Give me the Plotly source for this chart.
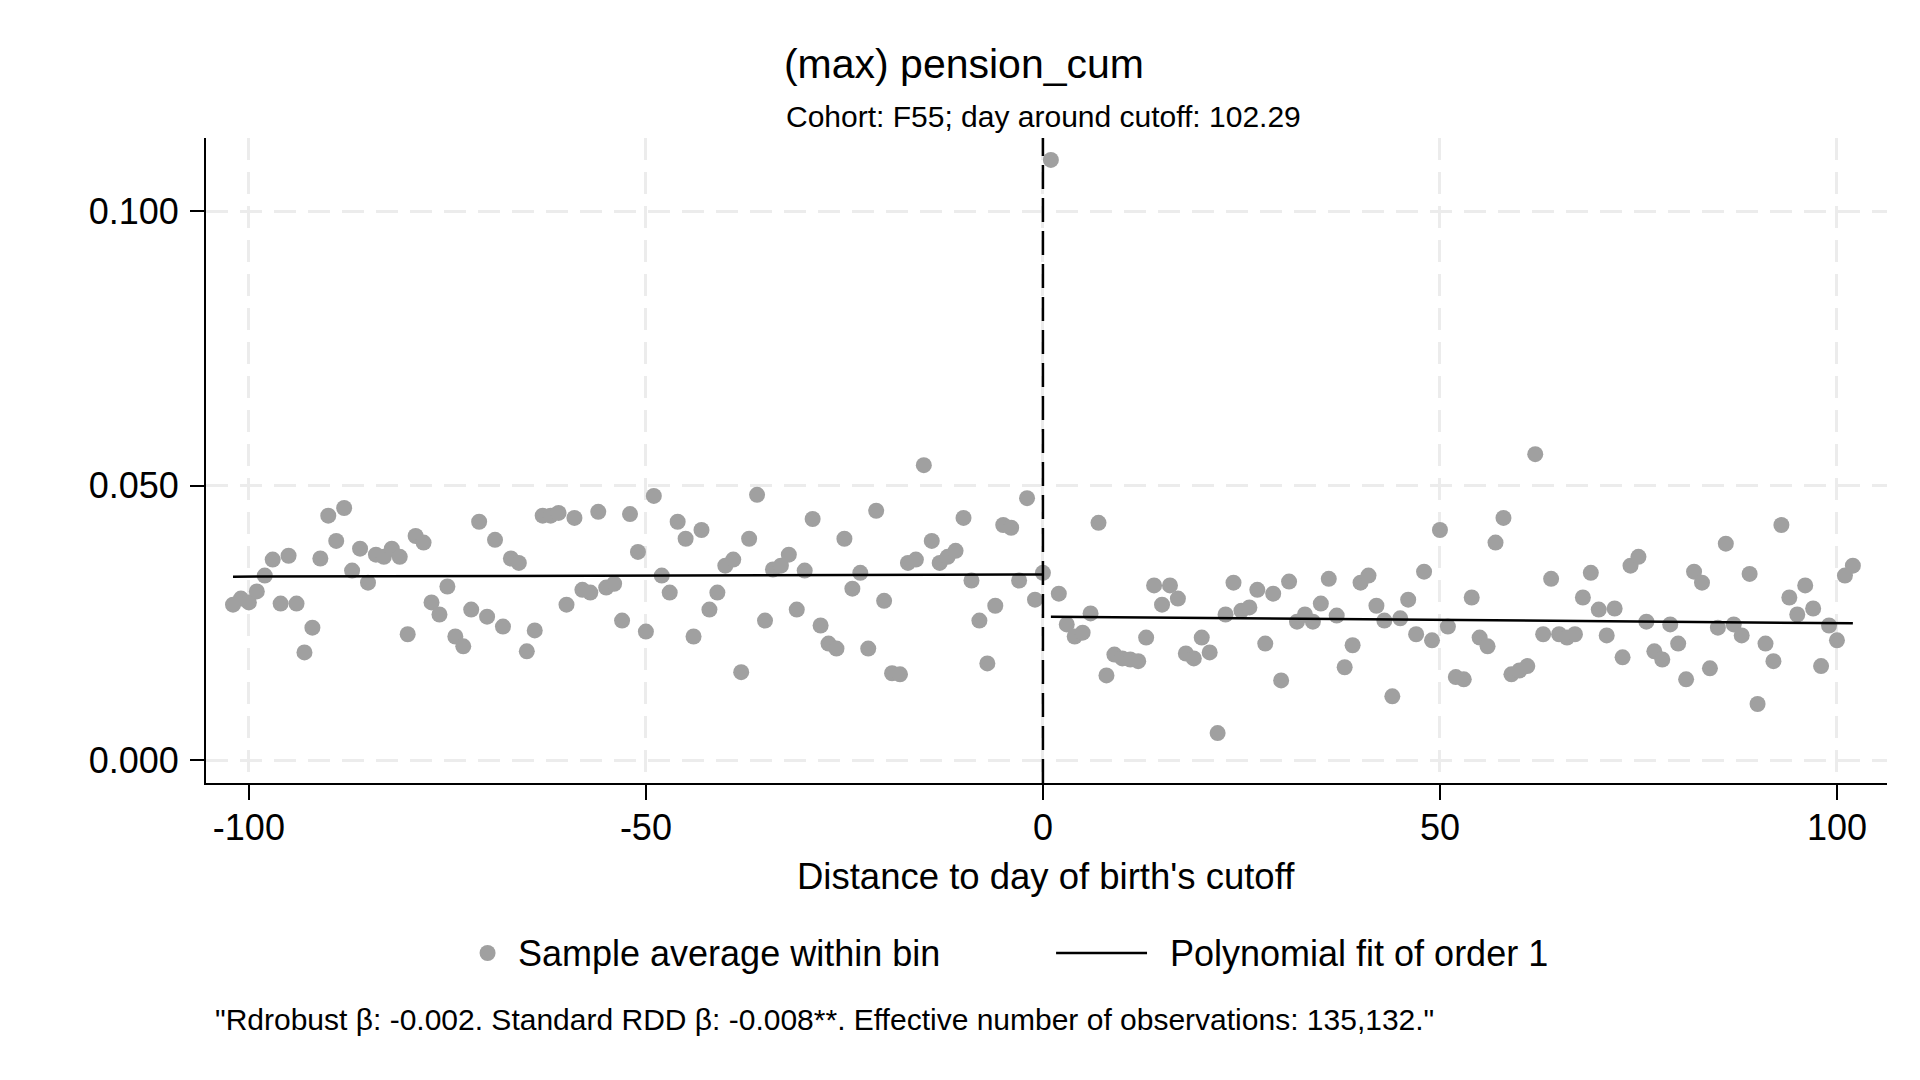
import plotly.graph_objects as go

# binned sample averages, left of the cutoff (days -102..0)
LEFT_X = list(range(-102, 1))
LEFT_Y = [
    0.0283, 0.0294, 0.0287, 0.0307, 0.0336, 0.0365, 0.0285, 0.0372, 0.0285, 0.0196,
    0.0241, 0.0367, 0.0445, 0.0399, 0.0459, 0.0345, 0.0385, 0.0323, 0.0374, 0.0370,
    0.0385, 0.0370, 0.0229, 0.0408, 0.0396, 0.0287, 0.0265, 0.0316, 0.0225, 0.0207,
    0.0274, 0.0434, 0.0261, 0.0401, 0.0243, 0.0367, 0.0359, 0.0198, 0.0236, 0.0445,
    0.0445, 0.0450, 0.0283, 0.0441, 0.0310, 0.0305, 0.0452, 0.0314, 0.0321, 0.0254,
    0.0448, 0.0379, 0.0234, 0.0481, 0.0336, 0.0305, 0.0434, 0.0403, 0.0225, 0.0419,
    0.0274, 0.0305, 0.0354, 0.0365, 0.0160, 0.0403, 0.0483, 0.0254, 0.0347, 0.0354,
    0.0374, 0.0274, 0.0345, 0.0439, 0.0245, 0.0212, 0.0203, 0.0403, 0.0312, 0.0341,
    0.0203, 0.0454, 0.0290, 0.0158, 0.0156, 0.0359, 0.0365, 0.0537, 0.0399, 0.0359,
    0.0370, 0.0381, 0.0441, 0.0327, 0.0254, 0.0176, 0.0281, 0.0428, 0.0423, 0.0327,
    0.0477, 0.0292, 0.0341,
]

# binned sample averages, right of the cutoff (days 1..102)
RIGHT_X = list(range(1, 103))
RIGHT_Y = [
    0.1093, 0.0303, 0.0247, 0.0225, 0.0232, 0.0267, 0.0432, 0.0154, 0.0192, 0.0185,
    0.0183, 0.0180, 0.0223, 0.0318, 0.0283, 0.0318, 0.0294, 0.0194, 0.0185, 0.0223,
    0.0196, 0.0049, 0.0265, 0.0323, 0.0272, 0.0278, 0.0310, 0.0212, 0.0303, 0.0145,
    0.0325, 0.0252, 0.0265, 0.0252, 0.0285, 0.0330, 0.0263, 0.0169, 0.0209, 0.0323,
    0.0336, 0.0281, 0.0254, 0.0116, 0.0258, 0.0292, 0.0229, 0.0343, 0.0218, 0.0419,
    0.0243, 0.0151, 0.0147, 0.0296, 0.0223, 0.0207, 0.0396, 0.0441, 0.0156, 0.0163,
    0.0171, 0.0557, 0.0229, 0.0330, 0.0229, 0.0223, 0.0229, 0.0296, 0.0341, 0.0274,
    0.0227, 0.0276, 0.0187, 0.0354, 0.0370, 0.0252, 0.0198, 0.0183, 0.0247, 0.0212,
    0.0147, 0.0343, 0.0323, 0.0167, 0.0241, 0.0394, 0.0247, 0.0227, 0.0339, 0.0102,
    0.0212, 0.0180, 0.0428, 0.0296, 0.0265, 0.0318, 0.0276, 0.0171, 0.0245, 0.0218,
    0.0336, 0.0354,
]

# linear fits (estimated on micro data)
FIT_LEFT_X = [-102, 0]
FIT_LEFT_Y = [0.0334, 0.0338]
FIT_RIGHT_X = [1, 102]
FIT_RIGHT_Y = [0.0261, 0.0249]

X_TICKS = [-100, -50, 0, 50, 100]
X_TICK_LABELS = ['-100', '-50', '0', '50', '100']
Y_TICKS = [0.0, 0.05, 0.10]
Y_TICK_LABELS = ['0.000', '0.050', '0.100']

LEGEND_LABELS = ['Sample average within bin', 'Polynomial fit of order 1']

FONT = 'Liberation Sans, Arial, sans-serif'
DOT = 'rgb(160,160,160)'
GRID = 'rgb(236,236,236)'

fig = go.Figure()

fig.add_trace(go.Scatter(
    x=LEFT_X + RIGHT_X, y=LEFT_Y + RIGHT_Y, mode='markers',
    marker=dict(color=DOT, size=16, line_width=0),
    name=LEGEND_LABELS[0], showlegend=False))

fig.add_trace(go.Scatter(
    x=FIT_LEFT_X, y=FIT_LEFT_Y, mode='lines',
    line=dict(color='black', width=2.5),
    name=LEGEND_LABELS[1], showlegend=False))
fig.add_trace(go.Scatter(
    x=FIT_RIGHT_X, y=FIT_RIGHT_Y, mode='lines',
    line=dict(color='black', width=2.5),
    name=LEGEND_LABELS[1], showlegend=False))

# cutoff
fig.add_vline(x=0, line=dict(color='black', width=2.5, dash='24px,9px'))

# page body has an 8px margin, so the margins are shifted up/left by 8
fig.update_layout(
    width=1920, height=1080,
    paper_bgcolor='white', plot_bgcolor='white',
    font=dict(family=FONT, color='black', size=36),
    margin=dict(l=198, r=41, t=130, b=305),
    title=dict(text='(max) pension_cum', x=0.4979, xanchor='center',
               y=0.9481, yanchor='middle', yref='container', font=dict(size=41)),
    showlegend=False,
    xaxis=dict(
        range=[-105.4, 106.3], tickvals=X_TICKS, ticktext=X_TICK_LABELS,
        showgrid=True, gridcolor=GRID, griddash='22px,12px', gridwidth=3,
        zeroline=False, showline=True, linecolor='black', linewidth=2,
        ticks='outside', ticklen=15, tickwidth=2, tickcolor='black',
        ticklabelstandoff=-3, automargin=False),
    yaxis=dict(
        range=[-0.00419, 0.1133], tickvals=Y_TICKS, ticktext=Y_TICK_LABELS,
        showgrid=True, gridcolor=GRID, griddash='22px,12px', gridwidth=3,
        zeroline=False, showline=True, linecolor='black', linewidth=2,
        ticks='outside', ticklen=14, tickwidth=2, tickcolor='black',
        ticklabelstandoff=4, automargin=False),
)

# subtitle, axis title and note
fig.add_annotation(text='Cohort: F55; day around cutoff: 102.29',
                   xref='paper', yref='paper', x=0.4985, y=1.0341,
                   xanchor='center', yanchor='middle', showarrow=False,
                   font=dict(size=30))
fig.add_annotation(text="Distance to day of birth's cutoff",
                   xref='paper', yref='paper', x=0.4997, y=-0.1442,
                   xanchor='center', yanchor='middle', showarrow=False,
                   font=dict(size=36.5))
fig.add_annotation(
    text='"Rdrobust β: -0.002. Standard RDD β: -0.008**. Effective number of observations: 135,132."',
    xref='paper', yref='paper', x=0.0039, y=-0.3674, xanchor='left', yanchor='middle',
    showarrow=False, font=dict(size=30))

# legend, drawn below the axis title
LEG_Y = -0.2636
fig.add_shape(type='circle', xref='paper', yref='paper',
              xsizemode='pixel', ysizemode='pixel', xanchor=0.1675, yanchor=LEG_Y,
              x0=-8, x1=8, y0=-8, y1=8, fillcolor=DOT, line_width=0)
fig.add_annotation(text=LEGEND_LABELS[0], xref='paper', yref='paper',
                   x=0.1842, y=LEG_Y, xanchor='left', yanchor='middle',
                   showarrow=False, font=dict(size=36))
fig.add_shape(type='line', xref='paper', yref='paper',
              x0=0.5057, x1=0.5598, y0=LEG_Y, y1=LEG_Y,
              line=dict(color='black', width=2.5))
fig.add_annotation(text=LEGEND_LABELS[1], xref='paper', yref='paper',
                   x=0.5723, y=LEG_Y, xanchor='left', yanchor='middle',
                   showarrow=False, font=dict(size=36))

fig.write_html("out.html")
